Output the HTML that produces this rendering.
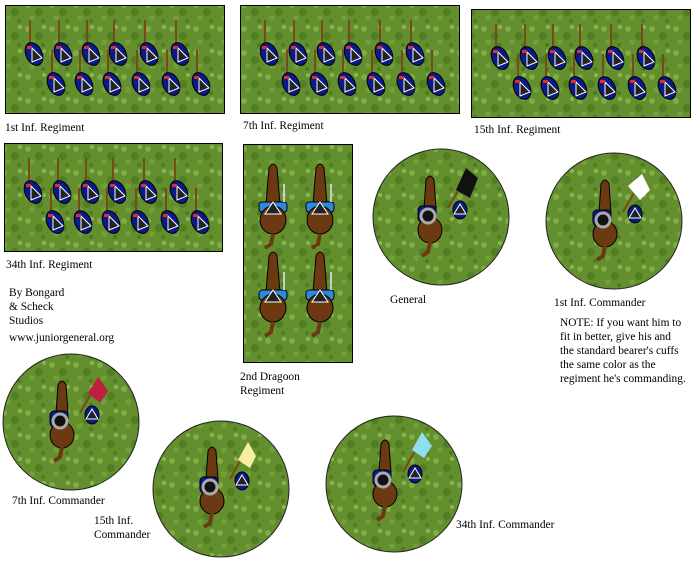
<!DOCTYPE html>
<html><head><meta charset="utf-8"><style>
html,body{margin:0;padding:0;background:#fff;width:697px;height:561px;overflow:hidden}
svg{position:absolute;left:0;top:0}
text{font-family:"Liberation Serif",serif;font-size:11.4px;fill:#000}
</style></head><body>
<svg width="697" height="561" viewBox="0 0 697 561" xmlns="http://www.w3.org/2000/svg">
<defs>
<pattern id="g" width="24" height="24" patternUnits="userSpaceOnUse">
<rect width="24" height="24" fill="#648f2e"/>
<circle cx="4" cy="5" r="3" fill="#7fac44"/><circle cx="15" cy="12" r="4" fill="#527e24"/>
<circle cx="20" cy="3" r="2" fill="#8cb852"/><circle cx="8" cy="18" r="3" fill="#72a038"/>
<circle cx="19" cy="21" r="2" fill="#4d7a20"/>
</pattern>
<g id="s">
<rect x="-1" y="-30" width="2" height="28" fill="#7a4a18"/>
<ellipse cx="4" cy="4" rx="8" ry="12" transform="rotate(-25 4 4)" fill="#0a1a8a" stroke="#000" stroke-width="1"/>
<polygon points="2,-2 12,8 2,12" fill="#222" stroke="#fff" stroke-width="1"/>
<rect x="-3" y="-4" width="5" height="3" fill="#e03020"/>
</g>
<g id="d">
<path d="M-4,-48 Q0,-56 4,-48 L7,-12 L-7,-12 Z" fill="#6b3a12" stroke="#000"/>
<rect x="-14" y="-14" width="28" height="10" rx="3" fill="#2a8ae0" stroke="#000"/>
<ellipse cx="0" cy="4" rx="13" ry="14" fill="#6b3a12" stroke="#000"/>
<polygon points="0,-14 8,-2 -8,-2" fill="#222" stroke="#fff"/>
<path d="M0,18 L-2,28 L-8,32" stroke="#6b3a12" stroke-width="4" fill="none"/>
<rect x="10" y="-32" width="2" height="18" fill="#ccc"/>
</g>
<g id="c">
<path d="M-4,-38 Q0,-46 4,-38 L6,-10 L-6,-10 Z" fill="#6b3a12" stroke="#000"/>
<rect x="-12" y="-12" width="18" height="16" rx="4" fill="#0a1a8a" stroke="#000"/>
<ellipse cx="0" cy="12" rx="12" ry="13" fill="#6b3a12" stroke="#000"/>
<circle cx="-2" cy="-2" r="7" fill="#111" stroke="#aaa" stroke-width="3"/>
<path d="M0,24 L-2,34 L-8,38" stroke="#6b3a12" stroke-width="4" fill="none"/>
<ellipse cx="30" cy="-8" rx="7" ry="9" fill="#0a1a8a" stroke="#000"/>
<polygon points="30,-14 36,-4 24,-4" fill="#222" stroke="#fff"/>
<line x1="18" y1="-10" x2="34" y2="-38" stroke="#7a4a18" stroke-width="2"/>
</g>
</defs>

<rect x="5.5" y="5.5" width="219" height="108" fill="url(#g)" stroke="#000"/>
<rect x="240.5" y="5.5" width="219" height="108" fill="url(#g)" stroke="#000"/>
<rect x="471.5" y="9.5" width="219" height="108" fill="url(#g)" stroke="#000"/>
<rect x="4.5" y="143.5" width="218" height="108" fill="url(#g)" stroke="#000"/>
<rect x="243.5" y="144.5" width="109" height="218" fill="url(#g)" stroke="#000"/>

<g id="reg">
<use href="#s" x="30" y="50"/><use href="#s" x="59" y="50"/><use href="#s" x="87" y="50"/><use href="#s" x="114" y="50"/><use href="#s" x="145" y="50"/><use href="#s" x="176" y="50"/>
<use href="#s" x="52" y="80"/><use href="#s" x="80" y="80"/><use href="#s" x="108" y="80"/><use href="#s" x="137" y="80"/><use href="#s" x="167" y="80"/><use href="#s" x="197" y="80"/>
</g>
<use href="#reg" x="235" y="0"/>
<use href="#reg" x="466" y="4"/>
<use href="#reg" x="-1" y="138"/>

<use href="#d" x="273" y="216"/><use href="#d" x="320" y="216"/>
<use href="#d" x="273" y="304"/><use href="#d" x="320" y="304"/>

<circle cx="441" cy="217" r="68" fill="url(#g)" stroke="#222"/>
<circle cx="614" cy="221" r="68" fill="url(#g)" stroke="#222"/>
<circle cx="71" cy="422" r="68" fill="url(#g)" stroke="#222"/>
<circle cx="221" cy="489" r="68" fill="url(#g)" stroke="#222"/>
<circle cx="394" cy="484" r="68" fill="url(#g)" stroke="#222"/>

<use href="#c" x="430" y="218"/><polygon points="466,168 478,178 470,198 456,190" fill="#111"/>
<use href="#c" x="605" y="222"/><polygon points="642,174 650,190 640,200 628,186" fill="#fff"/>
<use href="#c" x="62" y="423"/><polygon points="98,377 108,391 100,403 88,393" fill="#c02040"/>
<use href="#c" x="212" y="489"/><polygon points="248,442 256,456 250,468 238,460" fill="#f4f0a0"/>
<use href="#c" x="385" y="482"/><polygon points="422,432 432,446 424,458 412,450" fill="#8ee0f0"/>

<text x="5" y="131">1st Inf. Regiment</text>
<text x="243" y="129">7th Inf. Regiment</text>
<text x="474" y="133">15th Inf. Regiment</text>
<text x="6" y="268">34th Inf. Regiment</text>
<text x="9" y="296">By Bongard</text>
<text x="9" y="310">&amp; Scheck</text>
<text x="9" y="324">Studios</text>
<text x="9" y="341">www.juniorgeneral.org</text>
<text x="240" y="380">2nd Dragoon</text>
<text x="240" y="394">Regiment</text>
<text x="390" y="303">General</text>
<text x="554" y="306">1st Inf. Commander</text>
<text x="560" y="326">NOTE: If you want him to</text>
<text x="560" y="340">fit in better, give his and</text>
<text x="560" y="354">the standard bearer's cuffs</text>
<text x="560" y="368">the same color as the</text>
<text x="560" y="382">regiment he's commanding.</text>
<text x="12" y="504">7th Inf. Commander</text>
<text x="94" y="524">15th Inf.</text>
<text x="94" y="538">Commander</text>
<text x="456" y="528">34th Inf. Commander</text>
</svg>
</body></html>
